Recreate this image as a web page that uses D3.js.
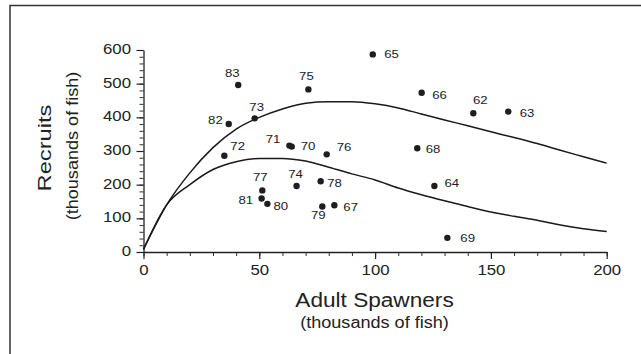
<!DOCTYPE html>
<html>
<head>
<meta charset="utf-8">
<script src="https://cdn.jsdelivr.net/npm/d3@7"></script>
<style>
  html, body { margin: 0; padding: 0; background: #fff; }
  text { font-family: "Liberation Sans", Arial, Helvetica, sans-serif; fill: #222; }
</style>
</head>
<body>
<svg id="chart" width="641" height="354"></svg>
<script>
// ---- Data ----
const years     = ["62","63","64","65","66","67","68","69","70","71","72","73","74","75","76","77","78","79","80","81","82","83"];
const spawners  = [142.4,157.5,125.6,99,120.1,82.4,118.2,131.2,64,63,34.9,48,66.1,71.2,79.1,51.3,76.5,77.2,53.5,51,36.8,40.9];
const recruits  = [412,417,196,587,473,139,308,42,313,316,286,397,196,483,290,183,210,135,143,159,380,496];

const curveX     = [0,10,20,30,40,50,60,70,80,90,100,110,120,130,140,150,160,170,180,190,200];
const upperCurve = [8,140,235,310,365,400,425,442,446,446,440,428,410,392,375,357,340,322,302,283,264];
const lowerCurve = [8,140,200,245,268,278,278,270,252,232,214,190,170,152,135,119,106,94,80,69,61];

const xMajorTicks = [0,50,100,150,200];
const yMajorTicks = [0,100,200,300,400,500,600];

// label placement (per point, same order as years): [dx, dy, anchor]
const labelPlace = [
  [7,-9,"middle"],[11.5,5.5,"start"],[10,1,"start"],[11.5,4,"start"],[10.5,6,"start"],
  [9,5.5,"start"],[8.5,4.5,"start"],[13,4,"start"],[9,3,"start"],[-9,-3,"end"],
  [6,-6,"start"],[2,-7,"middle"],[-1,-8.5,"middle"],[-2,-9,"middle"],[10,-3,"start"],
  [-2,-9.5,"middle"],[6.5,5.5,"start"],[-4,12.5,"middle"],[6,6,"start"],[-8.5,6,"end"],
  [-6,0,"end"],[-6,-8,"middle"]
];

// ---- Layout ----
const svg = d3.select("#chart");
const SX = 1.2; // horizontal stretch of the lettering

const x = d3.scaleLinear().domain([0,200]).range([143.5,606.7]);
const y = d3.scaleLinear().domain([0,600]).range([252,50]);

// outer frame (runs off right/bottom)
svg.append("rect")
  .attr("x",10).attr("y",5.5).attr("width",700).attr("height",400)
  .attr("fill","none").attr("stroke","#333").attr("stroke-width",1.5);

function stretchTexts(sel){
  sel.each(function(){
    const t = d3.select(this);
    const tx = +t.attr("x") || 0, ty = +t.attr("y") || 0;
    t.attr("x",0).attr("y",0).attr("transform",`translate(${tx},${ty}) scale(${SX},1)`);
  });
}

// y axis minor ticks
svg.append("g").attr("transform",`translate(${x(0)},0)`)
  .call(d3.axisLeft(y).tickValues(d3.range(0,601,20)).tickSize(4).tickSizeOuter(0).tickFormat(""))
  .call(g => g.select(".domain").remove())
  .call(g => g.selectAll("line").attr("stroke","#333").attr("stroke-width",1));

// y axis major
const gy = svg.append("g").attr("transform",`translate(${x(0)},0)`)
  .call(d3.axisLeft(y).tickValues(yMajorTicks).tickSize(7).tickSizeOuter(0).tickPadding(5.5));
gy.select(".domain").attr("stroke","#222").attr("stroke-width",1.3);
gy.selectAll("line").attr("stroke","#222").attr("stroke-width",1.2);
gy.selectAll("text").attr("font-size",14).attr("dy","0.25em")
  .style("font-family",'"Liberation Sans", Arial, sans-serif').attr("fill","#222");
stretchTexts(gy.selectAll("text"));

// x axis minor ticks
svg.append("g").attr("transform",`translate(0,${y(0)})`)
  .call(d3.axisBottom(x).tickValues(d3.range(0,201,10)).tickSize(4).tickSizeOuter(0).tickFormat(""))
  .call(g => g.select(".domain").remove())
  .call(g => g.selectAll("line").attr("stroke","#333").attr("stroke-width",1));

// x axis major
const gx = svg.append("g").attr("transform",`translate(0,${y(0)})`)
  .call(d3.axisBottom(x).tickValues(xMajorTicks).tickSize(7).tickSizeOuter(0).tickPadding(6));
gx.select(".domain").attr("stroke","#222").attr("stroke-width",1.5);
gx.selectAll("line").attr("stroke","#222").attr("stroke-width",1.2);
gx.selectAll("text").attr("font-size",14)
  .style("font-family",'"Liberation Sans", Arial, sans-serif').attr("fill","#222");
stretchTexts(gx.selectAll("text"));

// curves
const line = d3.line().x(d => x(d[0])).y(d => y(d[1])).curve(d3.curveMonotoneX);
[upperCurve, lowerCurve].forEach(c => {
  svg.append("path")
    .datum(curveX.map((v,i) => [v, c[i]]))
    .attr("d", line)
    .attr("fill","none").attr("stroke","#1a1a1a").attr("stroke-width",1.5);
});

// points
const pts = years.map((yr,i) => ({yr, sx: spawners[i], r: recruits[i], p: labelPlace[i]}));
svg.append("g").selectAll("circle").data(pts).join("circle")
  .attr("cx", d => x(d.sx)).attr("cy", d => y(d.r)).attr("r", 3.2).attr("fill","#1e1e1e");

svg.append("g").selectAll("text").data(pts).join("text")
  .attr("transform", d => `translate(${x(d.sx)+d.p[0]},${y(d.r)+d.p[1]}) scale(${SX},1)`)
  .attr("text-anchor", d => d.p[2])
  .attr("font-size", 11)
  .text(d => d.yr);

// axis titles
svg.append("text").attr("transform",`translate(374.5,306.5) scale(${SX - 0.04},1)`)
  .attr("text-anchor","middle").attr("font-size",19.5).text("Adult Spawners");
svg.append("text").attr("transform",`translate(374.5,328) scale(${SX - 0.07},1)`)
  .attr("text-anchor","middle").attr("font-size",16).text("(thousands of fish)");

svg.append("text").attr("transform",`translate(51,148) rotate(-90) scale(${SX + 0.08},1)`)
  .attr("text-anchor","middle").attr("font-size",18.5).text("Recruits");
svg.append("text").attr("transform",`translate(78,146) rotate(-90) scale(${SX - 0.07},1)`)
  .attr("text-anchor","middle").attr("font-size",16).text("(thousands of fish)");
</script>
</body>
</html>
